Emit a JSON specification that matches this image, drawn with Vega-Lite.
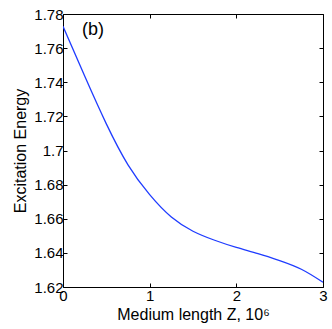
{
  "$schema": "https://vega.github.io/schema/vega-lite/v6.json",
  "width": 260,
  "height": 273,
  "autosize": {"type": "none"},
  "padding": {"left": 63, "top": 14, "right": 9, "bottom": 42},
  "background": "white",
  "config": {
    "view": {"stroke": "black", "strokeWidth": 1},
    "font": "Liberation Sans",
    "axis": {
      "grid": false,
      "domain": false,
      "ticks": true,
      "tickColor": "black",
      "tickSize": -4,
      "tickWidth": 1,
      "labelFont": "Liberation Sans",
      "labelFontSize": 15,
      "labelColor": "black",
      "labelFlush": false,
      "labelBound": false,
      "labelOverlap": false,
      "titleFont": "Liberation Sans",
      "titleFontSize": 16,
      "titleFontWeight": "normal",
      "titleColor": "black"
    }
  },
  "data": {
    "values": [
      {"z": 0.0, "e": 1.7728},
      {"z": 0.25, "e": 1.7436},
      {"z": 0.5, "e": 1.7156},
      {"z": 0.75, "e": 1.6916},
      {"z": 1.0, "e": 1.6741},
      {"z": 1.25, "e": 1.6610},
      {"z": 1.5, "e": 1.6527},
      {"z": 1.75, "e": 1.6474},
      {"z": 2.0, "e": 1.6432},
      {"z": 2.25, "e": 1.6396},
      {"z": 2.5, "e": 1.6355},
      {"z": 2.75, "e": 1.6304},
      {"z": 3.0, "e": 1.6228}
    ]
  },
  "layer": [
    {
      "mark": {"type": "line", "color": "#1f3cff", "strokeWidth": 1.3, "interpolate": "natural", "clip": true},
      "encoding": {
        "x": {
          "field": "z", "type": "quantitative",
          "scale": {"domain": [0, 3], "nice": false, "zero": false},
          "axis": {"orient": "bottom", "values": [0, 1, 2, 3], "title": "Medium length Z, 10⁶", "labelPadding": 5, "titlePadding": 3}
        },
        "y": {
          "field": "e", "type": "quantitative",
          "scale": {"domain": [1.62, 1.78], "nice": false, "zero": false},
          "axis": {"orient": "left", "values": [1.62, 1.64, 1.66, 1.68, 1.7, 1.72, 1.74, 1.76, 1.78], "format": "~g", "title": "Excitation Energy", "labelPadding": 4, "titlePadding": 5}
        }
      }
    },
    {
      "mark": {"type": "line", "opacity": 0},
      "encoding": {
        "x": {"field": "z", "type": "quantitative", "axis": {"orient": "top", "values": [0, 1, 2, 3], "labels": false, "title": null}},
        "y": {"field": "e", "type": "quantitative", "axis": {"orient": "right", "values": [1.62, 1.64, 1.66, 1.68, 1.7, 1.72, 1.74, 1.76, 1.78], "labels": false, "title": null}}
      }
    },
    {
      "data": {"values": [{"z": 0.345, "e": 1.7705, "t": "(b)"}]},
      "mark": {"type": "text", "fontSize": 18, "font": "Liberation Sans", "color": "black", "align": "center", "baseline": "middle"},
      "encoding": {
        "x": {"field": "z", "type": "quantitative", "axis": null},
        "y": {"field": "e", "type": "quantitative", "axis": null},
        "text": {"field": "t"}
      }
    }
  ],
  "resolve": {"axis": {"x": "independent", "y": "independent"}}
}
